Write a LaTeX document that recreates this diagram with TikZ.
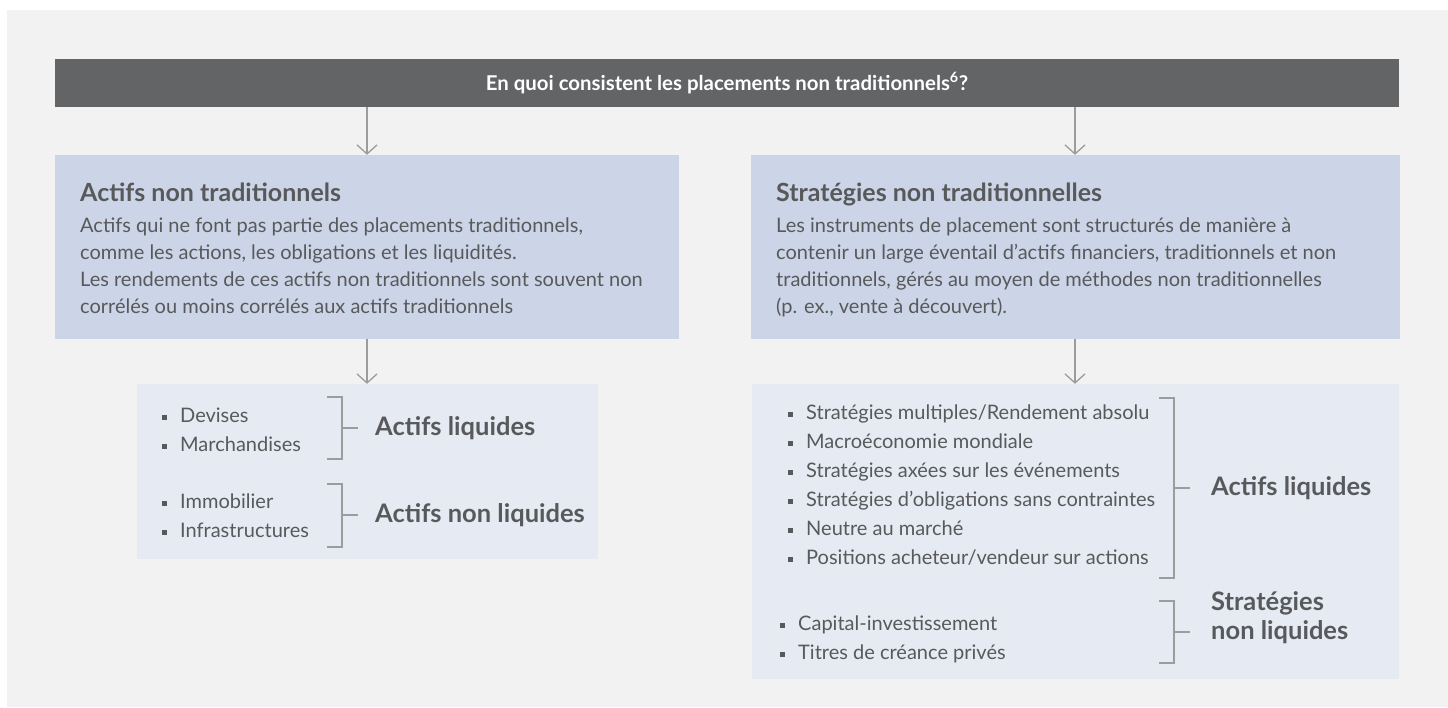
\documentclass[tikz,border=0pt]{standalone}
\usepackage{fontspec}
\setmainfont{Lato}
\usetikzlibrary{arrows.meta, positioning}

\definecolor{panel}{HTML}{F2F2F2}
\definecolor{headgrey}{HTML}{636466}
\definecolor{boxblue}{HTML}{CBD5E7}
\definecolor{listblue}{HTML}{E6EAF3}
\definecolor{textgrey}{HTML}{58595B}
\definecolor{linegrey}{HTML}{9C9C9C}

\newcommand{\bul}{\makebox[18pt][l]{\raisebox{2.6pt}{\rule{4.6pt}{4.6pt}}}}

\begin{document}
\begin{tikzpicture}[x=1pt, y=-1pt,
    head/.style={rectangle, fill=headgrey, text=white, inner sep=0pt,
        font=\fontsize{20.4}{24}\selectfont\bfseries,
        minimum width=1344pt, minimum height=48pt},
    group/.style={rectangle, fill=boxblue, minimum height=184pt, inner sep=0pt},
    list/.style={rectangle, fill=listblue, inner sep=0pt},
    title/.style={anchor=base west, inner sep=0pt, text=textgrey,
        font=\fontsize{25}{30}\selectfont\bfseries},
    body/.style={anchor=north west, inner sep=0pt, align=left, text=textgrey,
        font=\fontsize{20}{26.7}\selectfont},
    items/.style={anchor=north west, inner sep=0pt, align=left, text=textgrey,
        font=\fontsize{20}{29}\selectfont},
    kind/.style={anchor=west, inner sep=0pt, align=left, text=textgrey,
        font=\fontsize{25.5}{29}\selectfont\bfseries},
    link/.style={draw=linegrey, line width=1.3pt,
        -{Straight Barb[length=9pt, width=20pt]}},
    brace/.style={draw=linegrey, line width=1.6pt}]

    \fill[white] (0,0) rectangle (1448,707);
    \fill[panel] (7,10) rectangle (1448,707);
    \useasboundingbox (0,0) rectangle (1448,707);

    \node[head] (q_0) at (727,83)
        {En quoi consistent les placements non traditionnels\textsuperscript{6}?};

    \node[group, minimum width=624pt] (a_1) at (367,247) {};
    \node[group, minimum width=649pt] (s_1) at (1075,247) {};

    \node[list, minimum width=461pt, minimum height=175pt] (a_2) at (367.5,471.5) {};
    \node[list, minimum width=647pt, minimum height=295pt] (s_2) at (1075.5,531.5) {};

    \draw[link] (q_0.south -| a_1.north) -- (a_1.north);
    \draw[link] (q_0.south -| s_1.north) -- (s_1.north);
    \draw[link] (a_1.south) -- (a_1.south |- a_2.north);
    \draw[link] (s_1.south) -- (s_1.south |- s_2.north);

    \node[title] (a_t) at (80,201) {Actifs non traditionnels};
    \node[body] (a_d) at (80,218)
        {Actifs qui ne font pas partie des placements traditionnels,\\
         comme les actions, les obligations et les liquidités.\\
         Les rendements de ces actifs non traditionnels sont souvent non\\
         corrélés ou moins corrélés aux actifs traditionnels};

    \node[title] (s_t) at (776,201) {Stratégies non traditionnelles};
    \node[body] (s_d) at (776,218)
        {Les instruments de placement sont structurés de manière à\\
         contenir un large éventail d’actifs financiers, traditionnels et non\\
         traditionnels, gérés au moyen de méthodes non traditionnelles\\
         (p. ex., vente à découvert).};

    \node[items] (a_3) at (162,407.5) {\bul Devises\\ \bul Marchandises};
    \node[items] (a_4) at (162,493.5) {\bul Immobilier\\ \bul Infrastructures};

    \node[items] (s_3) at (788,404.5)
        {\bul Stratégies multiples/Rendement absolu\\
         \bul Macroéconomie mondiale\\
         \bul Stratégies axées sur les événements\\
         \bul Stratégies d’obligations sans contraintes\\
         \bul Neutre au marché\\
         \bul Positions acheteur/vendeur sur actions};
    \node[items] (s_4) at (780,615.5)
        {\bul Capital-investissement\\ \bul Titres de créance privés};

    \coordinate (b_1) at (358,428);
    \coordinate (b_2) at (358,515);
    \coordinate (b_3) at (1190,488);
    \coordinate (b_4) at (1190,632);

    \draw[brace] (327,397) -| (342,459) -- (327,459);
    \draw[brace] (342,428) -- (b_1);
    \draw[brace] (327,484) -| (342,547) -- (327,547);
    \draw[brace] (342,515) -- (b_2);
    \draw[brace] (1159,398) -| (1174,578) -- (1159,578);
    \draw[brace] (1174,488) -- (b_3);
    \draw[brace] (1159,601) -| (1174,663) -- (1159,663);
    \draw[brace] (1174,632) -- (b_4);

    \node[kind, right=17pt of b_1] (l_1) {Actifs liquides};
    \node[kind, right=17pt of b_2] (l_2) {Actifs non liquides};
    \node[kind, right=21pt of b_3] (l_3) {Actifs liquides};
    \node[kind, right=21pt of b_4, yshift=14.5pt] (l_4) {Stratégies\\non liquides};

\end{tikzpicture}
\end{document}
